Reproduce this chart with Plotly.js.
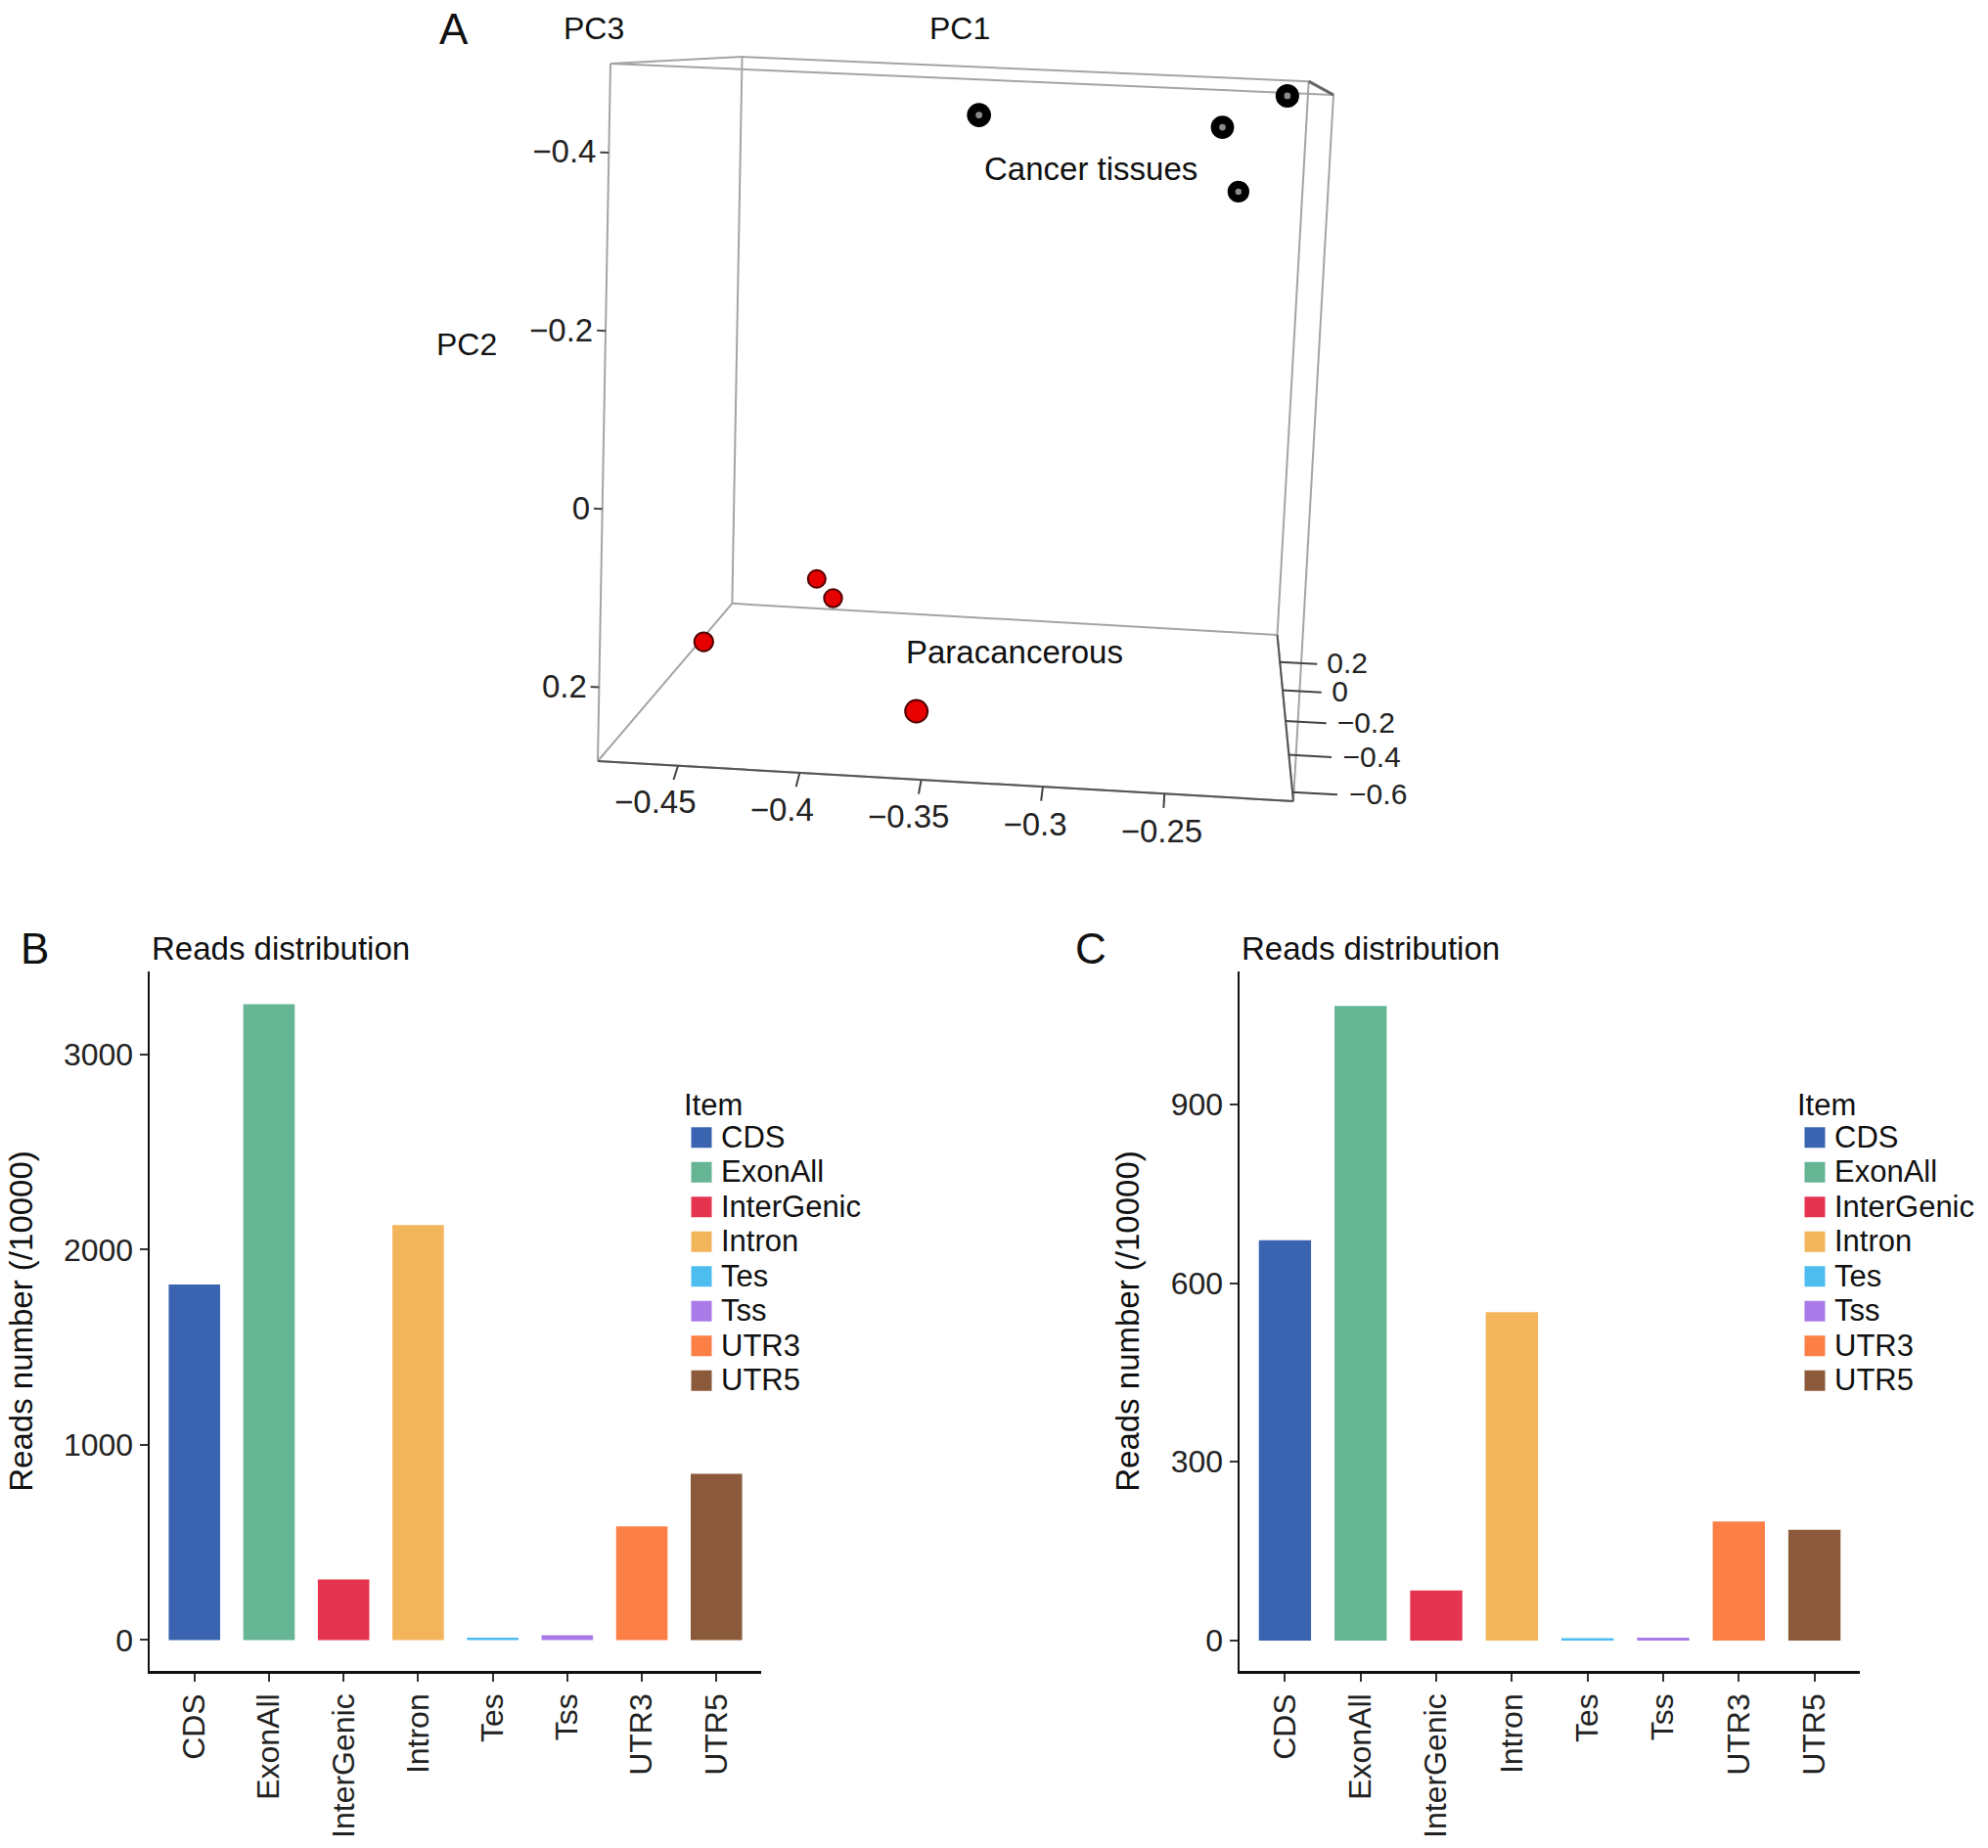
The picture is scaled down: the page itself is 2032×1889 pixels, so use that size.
<!DOCTYPE html>
<html>
<head>
<meta charset="utf-8">
<script src="https://cdn.plot.ly/plotly-3.0.1.min.js"></script>
<style>
  body { margin: 0; background: #fff; }
  #plot { width: 2032px; height: 1889px; }
</style>
</head>
<body>
<div id="plot"></div>
<script>
// bar panels B and C: read counts per region (/10000)
const categories = ["CDS", "ExonAll", "InterGenic", "Intron", "Tes", "Tss", "UTR3", "UTR5"];
const itemColors = ["#3a64b0", "#66b595", "#e5344f", "#f3b55c", "#4dbdf0", "#a97be8", "#fc7f46", "#8b5a3a"];
const readsB = [1821, 3257, 311, 2126, 12, 25, 582, 852];
const readsC = [672, 1065, 84, 551, 4, 5, 200, 186];
const ticksB = [0, 1000, 2000, 3000];
const ticksC = [0, 300, 600, 900];

// panel A: PCA scores, one list per component
const cancerPC1 = [-0.338, -0.240, -0.214, -0.231];
const cancerPC2 = [-0.459, -0.453, -0.494, -0.364];
const cancerPC3 = [-0.611, -0.454, -0.506, -0.139];
const paraPC1 = [-0.353, -0.439, -0.426, -0.481];
const paraPC2 = [0.207, 0.241, 0.249, 0.283];
const paraPC3 = [-0.664, 0.387, 0.282, 0.083];
const pc1Range = [-0.483, -0.197];
const pc2Range = [-0.5, 0.283];   // top .. bottom
const pc3Range = [-0.664, 0.387]; // front .. back
const pc1Ticks = [-0.45, -0.4, -0.35, -0.3, -0.25];
const pc2Ticks = [-0.4, -0.2, 0, 0.2];
const pc3Ticks = [0.2, 0, -0.2, -0.4, -0.6];

// no WebGL in the renderer, so panel A uses a small perspective camera:
// corners of the front face on the page and the vanishing point of PC3
const view = {
  tl: [624, 65], tr: [1363, 97], bl: [611, 778], br: [1322, 819],
  vp: [1246, 33], depth: 0.276
};

const FONT = "Liberation Sans, Arial, sans-serif";
const W = 2032, H = 1889;
function px(x) { return x / W; }
function py(y) { return 1 - y / H; }

function project(p1, p2, p3) {
  const u = (p1 - pc1Range[0]) / (pc1Range[1] - pc1Range[0]);
  const v = (p2 - pc2Range[0]) / (pc2Range[1] - pc2Range[0]);
  const w = (p3 - pc3Range[0]) / (pc3Range[1] - pc3Range[0]);
  const f = [0, 1].map(function(k) {
    return (1 - u) * (1 - v) * view.tl[k] + u * (1 - v) * view.tr[k] +
           (1 - u) * v * view.bl[k] + u * v * view.br[k];
  });
  const s = 1 / (1 + view.depth * w);
  return [view.vp[0] + (f[0] - view.vp[0]) * s, view.vp[1] + (f[1] - view.vp[1]) * s, s];
}

function fmt(t) {
  return (t < 0 ? "\u2212" : "") + String(Math.abs(t));
}

// collect segments [[p1,p2,p3],[p1,p2,p3]] into one line trace
function segTrace(segs, color, width) {
  const xs = [], ys = [];
  for (const sg of segs) {
    const a = project(sg[0][0], sg[0][1], sg[0][2]);
    const b = project(sg[1][0], sg[1][1], sg[1][2]);
    xs.push(a[0], b[0], null);
    ys.push(a[1], b[1], null);
  }
  return {
    type: "scatter", mode: "lines", x: xs, y: ys, xaxis: "x3", yaxis: "y3",
    line: {color: color, width: width}, showlegend: false, hoverinfo: "skip"
  };
}

function labelTrace(points, texts, position, size) {
  const pr = points.map(function(p) { return project(p[0], p[1], p[2]); });
  return {
    type: "scatter", mode: "text", x: pr.map(function(p) { return p[0]; }),
    y: pr.map(function(p) { return p[1]; }), text: texts, textposition: position,
    textfont: {size: size, color: "#222", family: FONT},
    xaxis: "x3", yaxis: "y3", showlegend: false, hoverinfo: "skip"
  };
}

function pointTrace(p1, p2, p3, size, color, lineColor) {
  const pr = p1.map(function(_, i) { return project(p1[i], p2[i], p3[i]); });
  return {
    type: "scatter", mode: "markers", xaxis: "x3", yaxis: "y3",
    x: pr.map(function(p) { return p[0]; }), y: pr.map(function(p) { return p[1]; }),
    marker: {size: pr.map(function(p) { return size * p[2]; }), color: color, opacity: 1,
             line: {color: lineColor, width: 2}},
    opacity: 1, showlegend: false, hoverinfo: "skip"
  };
}

const data = [];

// bounding box, all 12 edges
const [x0, x1] = pc1Range, [y0, y1] = pc2Range, [z0, z1] = pc3Range;
const boxSegs = [];
for (const b of [y0, y1]) for (const c of [z0, z1]) boxSegs.push([[x0, b, c], [x1, b, c]]);
for (const a of [x0, x1]) for (const c of [z0, z1]) boxSegs.push([[a, y0, c], [a, y1, c]]);
for (const a of [x0, x1]) for (const b of [y0, y1]) boxSegs.push([[a, b, z0], [a, b, z1]]);
data.push(segTrace(boxSegs, "#a4a4a4", 2));
// edges that carry the tick marks
data.push(segTrace([[[x0, y1, z0], [x1, y1, z0]], [[x1, y1, z0], [x1, y1, z1]]], "#555", 2));
data.push(segTrace([[[x1, y0, z0], [x1, y0, z1]]], "#666", 3));

// tick marks
data.push(segTrace(pc1Ticks.map(function(t) { return [[t, y1, z0], [t, y1 + 0.009, z0 - 0.03]]; }), "#444", 2));
data.push(segTrace(pc2Ticks.map(function(t) { return [[x0, t, z0], [x0 - 0.0035, t, z0]]; }), "#444", 2));
data.push(segTrace(pc3Ticks.map(function(t) { return [[x1, y1 + 0.004, t], [x1 + 0.019, y1 + 0.004, t]]; }), "#444", 2));

// tick labels
data.push(labelTrace(pc1Ticks.map(function(t) { return [t, y1 + 0.0095, z0 - 0.152]; }), pc1Ticks.map(fmt), "middle center", 33));
data.push(labelTrace(pc2Ticks.map(function(t) { return [x0 - 0.005, t + 0.003, z0]; }), pc2Ticks.map(fmt), "middle left", 33));
data.push(labelTrace(pc3Ticks.map(function(t) { return [x1 + 0.024, y1 + 0.006, t]; }), pc3Ticks.map(fmt), "middle right", 30));

// samples
data.push(pointTrace(cancerPC1, cancerPC2, cancerPC3, 23, "#000000", "#000000"));
data.push(pointTrace(cancerPC1, cancerPC2, cancerPC3, 5, "#8a8a8a", "#8a8a8a"));
data.push(pointTrace(paraPC1, paraPC2, paraPC3, 23, "#e60000", "#500000"));

// bars, plus marker-only traces that give the legend bigger square keys
for (let i = 0; i < categories.length; i++) {
  const panels = [[readsB, "x", "y", "legend"], [readsC, "x2", "y2", "legend2"]];
  for (const pn of panels) {
    data.push({
      type: "bar", x: [categories[i]], y: [pn[0][i]], name: categories[i],
      marker: {color: itemColors[i]}, xaxis: pn[1], yaxis: pn[2],
      showlegend: false, hoverinfo: "skip"
    });
    data.push({
      type: "scatter", mode: "markers", x: [null], y: [null],
      name: '<span style="font-size:31px">' + categories[i] + "</span>",
      marker: {symbol: "square", size: 16, color: itemColors[i], line: {color: itemColors[i], width: 5}},
      xaxis: pn[1], yaxis: pn[2], legend: pn[3], hoverinfo: "skip"
    });
  }
}

function barX(domain, anchor) {
  return {
    domain: domain, anchor: anchor, type: "category",
    categoryorder: "array", categoryarray: categories,
    range: [-0.6, 7.6], showline: true, linecolor: "#111", linewidth: 2.5,
    ticks: "outside", ticklen: 8, tickwidth: 2, tickcolor: "#333",
    tickangle: -90, tickfont: {size: 32, color: "#222"},
    showgrid: false, zeroline: false, fixedrange: true
  };
}
function barY(domain, anchor, range, ticks) {
  return {
    domain: domain, anchor: anchor, range: range, tickvals: ticks,
    showline: true, linecolor: "#111", linewidth: 2.5,
    ticks: "outside", ticklen: 8, tickwidth: 2, tickcolor: "#333",
    tickfont: {size: 32, color: "#222"},
    title: {text: "Reads number (/10000)", font: {size: 33, color: "#111"}, standoff: 22},
    showgrid: false, zeroline: false, fixedrange: true
  };
}
function legendAt(x) {
  // font size 25 sets the row pitch, the span inside each name sets the glyph size;
  // the title is given a taller line so the rows sit a little lower under it
  return {
    x: x, y: py(1092), xanchor: "left", yanchor: "top",
    title: {text: '<span style="font-size:31px">Item</span>', font: {size: 37, color: "#111"}},
    font: {size: 25, color: "#111"}, bgcolor: "rgba(0,0,0,0)",
    traceorder: "normal", tracegroupgap: 0, itemsizing: "trace"
  };
}

const layout = {
  width: W, height: H,
  margin: {l: 0, r: 0, t: 0, b: 0},
  paper_bgcolor: "#fff", plot_bgcolor: "rgba(0,0,0,0)",
  font: {family: FONT, size: 32, color: "#222"},
  barmode: "overlay", bargap: 0.31,
  xaxis: barX([px(153), px(778)], "y"),
  yaxis: barY([py(1708), py(993)], "x", [-158, 3425], ticksB),
  xaxis2: barX([px(1267), px(1901)], "y2"),
  yaxis2: barY([py(1708), py(993)], "x2", [-51, 1123], ticksC),
  // page-sized axes for the projected 3D panel
  xaxis3: {domain: [0, 1], range: [0, W], visible: false, fixedrange: true, anchor: "y3"},
  yaxis3: {domain: [0, 1], range: [H, 0], visible: false, fixedrange: true, anchor: "x3"},
  legend: legendAt(px(697)),
  legend2: legendAt(px(1835)),
  annotations: [
    {text: "A", x: px(464), y: py(29), font: {size: 44, color: "#111"}},
    {text: "PC3", x: px(607), y: py(29), font: {size: 32, color: "#111"}},
    {text: "PC1", x: px(981), y: py(29), font: {size: 32, color: "#111"}},
    {text: "PC2", x: px(477), y: py(352), font: {size: 32, color: "#111"}},
    {text: "Cancer tissues", x: px(1115), y: py(172), font: {size: 33, color: "#111"}},
    {text: "Paracancerous", x: px(1037), y: py(666), font: {size: 33, color: "#111"}},
    {text: "B", x: px(35), y: py(970), font: {size: 44, color: "#111"}},
    {text: "Reads distribution", x: px(153), y: py(970), xanchor: "left", font: {size: 33, color: "#111"}},
    {text: "C", x: px(1115), y: py(970), font: {size: 44, color: "#111"}},
    {text: "Reads distribution", x: px(1267), y: py(970), xanchor: "left", font: {size: 33, color: "#111"}}
  ].map(function(a) {
    return Object.assign({xref: "paper", yref: "paper", showarrow: false, xanchor: "center", yanchor: "middle"}, a);
  })
};

Plotly.newPlot("plot", data, layout, {displayModeBar: false, staticPlot: true});
</script>
</body>
</html>
